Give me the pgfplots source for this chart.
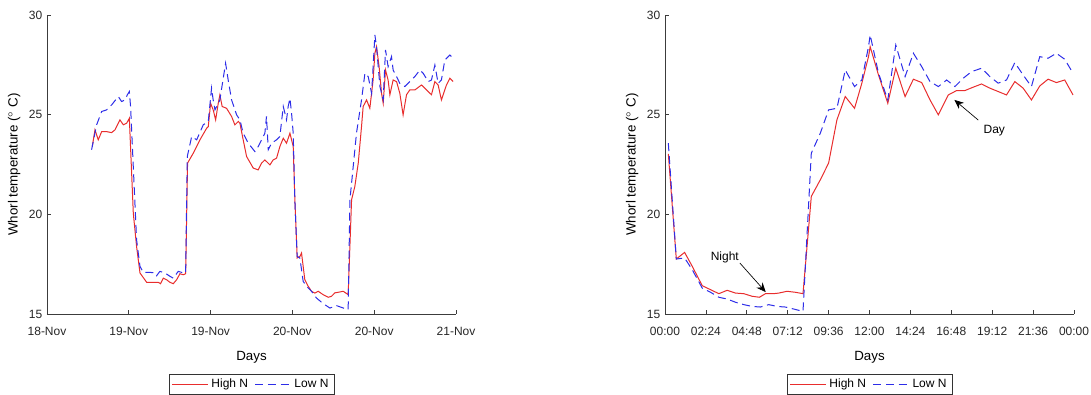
\documentclass[border=0pt]{standalone}
\usepackage{fontspec}
\setmainfont{Liberation Sans}
\usepackage{pgfplots}
\usepackage{pgfplotstable}
\pgfplotsset{compat=1.18}
\usetikzlibrary{arrows.meta}

\definecolor{hiN}{RGB}{232,45,45}
\definecolor{loN}{RGB}{45,45,232}
\definecolor{axgray}{RGB}{60,60,60}

\tikzset{
  hi/.style={hiN, line width=0.75pt},
  lo/.style={loN, line width=0.75pt, dash pattern=on 6pt off 3.5pt},
}

% Whorl temperature over three days (x in days from 18-Nov 00:00)
\pgfplotstableread{
x y
0.332 23.40
0.352 24.24
0.376 23.74
0.401 24.15
0.437 24.15
0.474 24.10
0.499 24.24
0.535 24.74
0.560 24.49
0.584 24.57
0.604 24.82
0.633 20.06
0.657 18.39
0.682 17.06
0.731 16.59
0.780 16.59
0.816 16.59
0.833 16.52
0.853 16.80
0.877 16.72
0.902 16.59
0.926 16.52
0.951 16.72
0.975 17.02
1.000 16.97
1.017 17.02
1.031 22.57
1.073 23.07
1.122 23.74
1.171 24.32
1.183 24.40
1.200 25.57
1.219 25.24
1.237 24.74
1.256 25.57
1.268 25.99
1.285 25.41
1.317 25.32
1.354 24.91
1.378 24.49
1.403 24.66
1.415 24.57
1.439 23.74
1.464 22.90
1.513 22.32
1.549 22.23
1.574 22.57
1.598 22.73
1.635 22.48
1.659 22.73
1.684 22.82
1.708 23.40
1.733 23.82
1.757 23.57
1.782 24.07
1.806 23.40
1.818 20.73
1.835 17.81
1.855 17.89
1.867 18.06
1.891 16.72
1.916 16.39
1.940 16.14
1.965 16.05
1.989 16.14
2.026 15.97
2.063 15.84
2.087 15.89
2.111 16.06
2.136 16.09
2.173 16.14
2.209 15.97
2.234 20.73
2.258 21.40
2.283 22.57
2.307 24.40
2.319 25.41
2.344 25.74
2.368 25.32
2.392 26.74
2.405 28.08
2.417 28.41
2.436 27.41
2.454 26.07
2.466 25.57
2.483 27.24
2.502 26.74
2.515 26.00
2.539 26.74
2.564 26.66
2.588 26.07
2.612 24.99
2.637 26.00
2.661 26.24
2.698 26.24
2.747 26.49
2.784 26.24
2.820 26.00
2.845 26.66
2.869 26.49
2.893 25.74
2.930 26.49
2.955 26.83
2.979 26.66
}\daysHigh

\pgfplotstableread{
x y
0.327 23.24
0.364 24.49
0.401 25.16
0.437 25.24
0.474 25.49
0.523 25.91
0.547 25.66
0.572 25.74
0.589 25.99
0.604 26.16
0.613 25.41
0.657 18.73
0.682 17.39
0.706 17.09
0.755 17.09
0.792 17.06
0.804 16.92
0.828 17.14
0.865 17.06
0.902 16.89
0.926 16.80
0.963 17.14
1.000 17.06
1.017 17.06
1.029 22.90
1.061 23.90
1.098 23.74
1.146 24.49
1.183 24.66
1.207 26.33
1.219 25.74
1.232 25.24
1.268 25.74
1.285 26.49
1.310 27.58
1.329 26.74
1.354 25.74
1.391 24.99
1.415 24.74
1.439 24.07
1.476 23.57
1.525 23.15
1.549 23.40
1.574 23.74
1.598 24.07
1.610 24.91
1.623 23.24
1.647 23.57
1.684 23.74
1.708 23.90
1.733 25.41
1.757 24.74
1.769 25.41
1.782 25.82
1.794 25.07
1.806 24.07
1.818 20.73
1.835 17.89
1.855 17.81
1.879 16.64
1.904 16.39
1.940 16.14
1.977 15.80
2.026 15.52
2.075 15.30
2.124 15.42
2.173 15.30
2.209 15.22
2.222 20.73
2.246 22.40
2.270 24.07
2.307 25.74
2.332 27.08
2.356 26.91
2.381 26.07
2.405 29.00
2.417 28.41
2.442 26.41
2.466 25.74
2.483 28.25
2.502 27.41
2.527 27.91
2.539 27.24
2.564 26.91
2.588 26.57
2.625 26.41
2.661 26.66
2.698 26.91
2.735 27.24
2.759 27.08
2.796 26.66
2.820 26.74
2.845 27.49
2.869 26.57
2.893 26.74
2.918 27.74
2.955 27.99
2.979 27.83
}\daysLow

% Mean daily course (x in hours)
\pgfplotstableread{
x y
0.195 23.03
0.663 17.76
1.151 18.09
1.600 17.39
2.185 16.42
2.673 16.22
3.161 16.02
3.649 16.19
4.137 16.05
4.624 16.02
5.112 15.89
5.541 15.84
5.893 16.02
6.380 16.02
6.673 16.05
7.161 16.14
7.649 16.09
8.098 16.02
8.585 20.90
9.112 21.73
9.600 22.57
10.088 24.74
10.576 25.91
11.122 25.32
11.551 26.58
11.941 27.91
12.039 28.41
12.527 26.99
13.073 25.57
13.541 27.33
14.088 25.91
14.576 26.78
15.063 26.61
15.551 25.74
16.039 24.99
16.624 25.99
17.112 26.21
17.600 26.21
18.088 26.38
18.576 26.54
19.063 26.33
19.551 26.16
20.039 25.99
20.527 26.66
21.015 26.33
21.502 25.74
21.990 26.44
22.478 26.78
22.966 26.61
23.454 26.74
23.941 25.99
}\hourHigh

\pgfplotstableread{
x y
0.195 23.57
0.663 17.76
1.151 17.81
1.600 17.22
2.185 16.30
2.673 16.09
3.161 15.84
3.649 15.75
4.137 15.59
4.624 15.47
5.112 15.38
5.600 15.35
6.088 15.47
6.576 15.38
7.063 15.35
7.551 15.25
8.098 15.13
8.585 23.07
9.112 24.07
9.600 25.24
10.088 25.32
10.576 27.24
11.122 26.41
11.551 26.74
11.941 28.41
12.039 29.00
12.527 27.08
13.073 25.74
13.541 28.50
14.088 26.91
14.576 28.08
15.063 27.41
15.551 26.66
16.039 26.41
16.527 26.74
17.015 26.41
17.502 26.83
17.990 27.16
18.576 27.33
19.063 26.91
19.551 26.58
20.039 26.74
20.527 27.61
21.015 26.99
21.502 26.41
21.990 27.91
22.478 27.83
22.966 28.08
23.454 27.78
23.941 27.08
}\hourLow

\pgfplotsset{
  whorl/.style={
    scale only axis,
    width=306.75pt, height=224.25pt,
    axis x line*=bottom, axis y line*=left,
    ymin=15, ymax=30, ytick={15,20,25,30},
    tick align=inside, major tick length=3pt,
    axis line style={axgray, line width=0.5pt},
    tick style={axgray, line width=0.5pt},
    tick label style={font=\fontsize{9}{10}\selectfont, text=black!85},
    xticklabel style={yshift=-6.5pt},
    /pgf/number format/assume math mode=true,
    xlabel={Days},
    ylabel={Whorl temperature ($^\circ$ C)},
    xlabel style={font=\fontsize{10.5}{12}\selectfont, text=black!85},
    ylabel style={font=\fontsize{12.5}{14}\selectfont, text=black!85},
    every axis x label/.style={at={(axis description cs:0.5,-0.144)}, anchor=center},
    every axis y label/.style={at={(axis description cs:-0.08,0.5)}, rotate=90, anchor=center},
    legend style={at={(0.5,-0.2007)}, anchor=north, legend columns=2,
      draw=black!80, line width=0.5pt, font=\fontsize{9}{10.5}\selectfont,
      inner xsep=2pt, inner ysep=1.5pt,
      /tikz/every even column/.append style={column sep=3pt}},
    legend image code/.code={\draw[#1] (0pt,0pt) -- (27pt,0pt);},
  }
}

\begin{document}
\begin{tikzpicture}
\begin{axis}[whorl, at={(0pt,0pt)},
  xmin=0, xmax=3,
  xtick={0,0.6,1.2,1.8,2.4,3},
  xticklabels={18-Nov,19-Nov,19-Nov,20-Nov,20-Nov,21-Nov}]
  \addplot[hi] table[x=x,y=y] {\daysHigh};
  \addplot[lo] table[x=x,y=y] {\daysLow};
  \legend{High N, Low N}
\end{axis}

\begin{axis}[whorl, at={(463.5pt,0pt)},
  xmin=0, xmax=24,
  xtick={0,2.4,4.8,7.2,9.6,12,14.4,16.8,19.2,21.6,24},
  xticklabels={00:00,02:24,04:48,07:12,09:36,12:00,14:24,16:48,19:12,21:36,00:00}]
  \addplot[hi] table[x=x,y=y] {\hourHigh};
  \addplot[lo] table[x=x,y=y] {\hourLow};
  \legend{High N, Low N}
  \draw[-{Stealth[length=7pt,width=6pt]}, black, line width=0.5pt]
    (axis cs:4.39,17.56) -- (axis cs:5.91,16.10);
  \node[font=\fontsize{9}{10}\selectfont] at (axis cs:3.51,17.86) {Night};
  \draw[-{Stealth[length=7pt,width=6pt]}, black, line width=0.5pt]
    (axis cs:18.38,24.73) -- (axis cs:16.98,25.74);
  \node[font=\fontsize{9}{10}\selectfont] at (axis cs:19.32,24.18) {Day};
\end{axis}

\pgfresetboundingbox
\useasboundingbox (-35.25pt,-60pt) rectangle (783pt,235.5pt);
\end{tikzpicture}
\end{document}
